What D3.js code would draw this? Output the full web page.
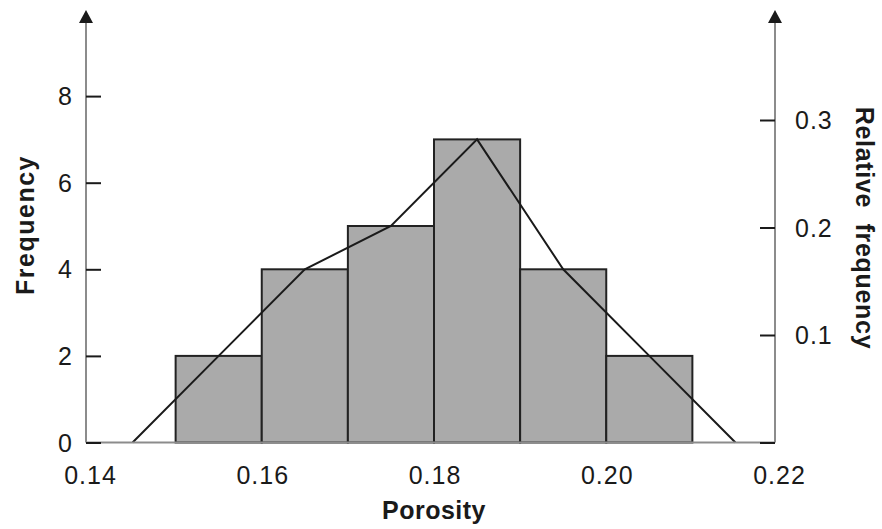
<!DOCTYPE html>
<html><head><meta charset="utf-8">
<script src="https://cdn.jsdelivr.net/npm/d3@7"></script>
<style>
body{margin:0;background:#fff;}
text{font-family:"Liberation Sans",Arial,sans-serif;fill:#1a1a1a;}
</style></head>
<body><svg id="c" width="882" height="529"></svg>
<script>
const binStart = [0.15, 0.16, 0.17, 0.18, 0.19, 0.20];
const binWidth = 0.01;
const freq = [2, 4, 5, 7, 4, 2];
const polyX = [0.145, 0.155, 0.165, 0.175, 0.185, 0.195, 0.205, 0.215];
const polyY = [0, 2, 4, 5, 7, 4, 2, 0];
const xTicks = [0.14, 0.16, 0.18, 0.20, 0.22];
const yTicks = [0, 2, 4, 6, 8];
const relTicks = [0.1, 0.2, 0.3];

const svg = d3.select("#c");
const x = d3.scaleLinear().domain([0.14, 0.22]).range([89.5, 778.5]);
const y = d3.scaleLinear().domain([0, 10]).range([442.5, 9.5]);
const yr = d3.scaleLinear().domain([0, 0.4]).range([442.5, 12.5]);
const axL = 86, axR = 775, y0 = y(0);

// bars
svg.append("g").selectAll("rect").data(binStart).join("rect")
  .attr("x", d => x(d)).attr("width", d => x(d + binWidth) - x(d))
  .attr("y", (d, i) => y(freq[i])).attr("height", (d, i) => y0 - y(freq[i]))
  .attr("fill", "#aaaaaa").attr("stroke", "#222").attr("stroke-width", 2);

// frequency polygon
svg.append("path").datum(polyX.map((v, i) => [v, polyY[i]]))
  .attr("d", d3.line().x(d => x(d[0])).y(d => y(d[1])))
  .attr("fill", "none").attr("stroke", "#1a1a1a").attr("stroke-width", 2);

// axis lines
const grey = "#8c8c8c";
svg.append("line").attr("x1", axL).attr("x2", axL).attr("y1", y0).attr("y2", 20).attr("stroke", grey).attr("stroke-width", 2);
svg.append("line").attr("x1", axR).attr("x2", axR).attr("y1", y0).attr("y2", 20).attr("stroke", grey).attr("stroke-width", 2);
svg.append("line").attr("x1", axL).attr("x2", axR).attr("y1", y0).attr("y2", y0).attr("stroke", grey).attr("stroke-width", 2);
// arrows
[axL, axR].forEach(ax => {
  svg.append("path").attr("d", `M${ax},10 L${ax-7},23 L${ax+7},23 Z`).attr("fill", "#1a1a1a");
});

// left ticks (inward)
const gL = svg.append("g").attr("transform", `translate(${axL},0)`)
  .call(d3.axisRight(y).tickValues(yTicks).tickSize(15).tickFormat(""));
gL.select(".domain").remove();
gL.selectAll("line").attr("stroke", "#1a1a1a").attr("stroke-width", 2);
svg.append("g").selectAll("text").data(yTicks).join("text")
  .attr("x", 73).attr("y", d => y(d)).attr("dy", "0.36em").attr("text-anchor", "end")
  .attr("font-size", 25).attr("letter-spacing", 1).text(d => d);

// right ticks (inward)
const gR = svg.append("g").attr("transform", `translate(${axR},0)`)
  .call(d3.axisLeft(yr).tickValues([0].concat(relTicks)).tickSize(15).tickFormat(""));
gR.select(".domain").remove();
gR.selectAll("line").attr("stroke", "#1a1a1a").attr("stroke-width", 2);
svg.append("g").selectAll("text").data(relTicks).join("text")
  .attr("x", 795).attr("y", d => yr(d)).attr("dy", "0.36em").attr("text-anchor", "start")
  .attr("font-size", 25).attr("letter-spacing", 1).text(d => d3.format(".1f")(d));

// x tick labels
svg.append("g").selectAll("text").data(xTicks).join("text")
  .attr("x", d => x(d) + 1).attr("y", 484).attr("text-anchor", "middle")
  .attr("font-size", 25).attr("letter-spacing", 1).text(d => d3.format(".2f")(d));

// titles
svg.append("text").attr("x", 434).attr("y", 519).attr("text-anchor", "middle")
  .attr("font-size", 25).attr("font-weight", "bold").attr("letter-spacing", 0.5).text("Porosity");
svg.append("text").attr("transform", "translate(34,225) rotate(-90)").attr("text-anchor", "middle")
  .attr("font-size", 25).attr("font-weight", "bold").attr("letter-spacing", 1.5).text("Frequency");
svg.append("text").attr("transform", "translate(856,228) rotate(90)").attr("text-anchor", "middle")
  .attr("font-size", 25).attr("font-weight", "bold").attr("letter-spacing", 0.7).style("white-space", "pre")
  .text("Relative  frequency");
</script></body></html>
